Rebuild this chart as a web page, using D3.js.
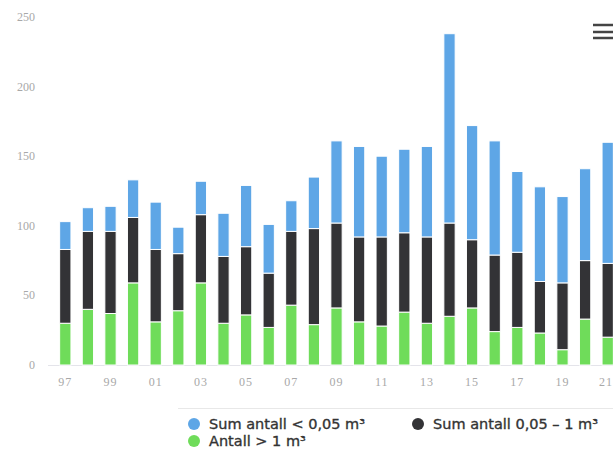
<!DOCTYPE html>
<html>
<head>
<meta charset="utf-8">
<script src="https://cdn.jsdelivr.net/npm/d3@7/dist/d3.min.js"></script>
<style>
  html, body { margin: 0; padding: 0; background: #fff; }
  svg { display: block; }
</style>
</head>
<body>
<svg id="chart" width="613" height="455"></svg>
<script>
const years = ["97","98","99","00","01","02","03","04","05","06","07","08","09","10","11","12","13","14","15","16","17","18","19","20","21"];
const tickLabels = ["97","99","01","03","05","07","09","11","13","15","17","19","21"];
const yTicks = [0, 50, 100, 150, 200, 250];
const seriesNames = ["Antall > 1 m³", "Sum antall 0,05 – 1 m³", "Sum antall < 0,05 m³"];
const large  = [30, 40, 37, 59, 31, 39, 59, 30, 36, 27, 43, 29, 41, 31, 28, 38, 30, 35, 41, 24, 27, 23, 11, 33, 20];
const medium = [53, 56, 59, 47, 52, 41, 49, 48, 49, 39, 53, 69, 61, 61, 64, 57, 62, 67, 49, 55, 54, 37, 48, 42, 53];
const small  = [20, 17, 18, 27, 34, 19, 24, 31, 44, 35, 22, 37, 59, 65, 58, 60, 65, 136, 82, 82, 58, 68, 62, 66, 87];
const colors = ["#6fdc5a", "#333336", "#5ea6e6"];

const rows = years.map((y, i) => ({ year: y, large: large[i], medium: medium[i], small: small[i] }));
const keys = ["large", "medium", "small"];
const stack = d3.stack().keys(keys)(rows);

const svg = d3.select("#chart");
const x = d3.scaleBand().domain(years).range([54, 619]).paddingInner(0.5).paddingOuter(0.25);
const y = d3.scaleLinear().domain([0, 250]).range([365, 17]);

// y axis labels
svg.append("g").selectAll("text").data(yTicks).join("text")
  .attr("x", 35).attr("y", d => y(d) + 4)
  .attr("text-anchor", "end")
  .attr("font-family", "Liberation Serif, serif")
  .attr("font-size", 12)
  .attr("fill", "#a8a8a8")
  .text(d => d);

// baseline
svg.append("line").attr("x1", 48).attr("x2", 613).attr("y1", 365.5).attr("y2", 365.5)
  .attr("stroke", "#e4e4ea").attr("stroke-width", 1);

// bars
svg.append("g").selectAll("g").data(stack).join("g")
  .attr("fill", (d, i) => colors[i])
  .selectAll("rect").data(d => d).join("rect")
  .attr("x", d => x(d.data.year))
  .attr("width", x.bandwidth())
  .attr("y", d => y(d[1]))
  .attr("height", d => y(d[0]) - y(d[1]))
  .attr("stroke", "#fff").attr("stroke-width", 1);

// x labels
svg.append("g").selectAll("text").data(tickLabels).join("text")
  .attr("x", d => Math.min(x(d) + x.bandwidth() / 2, 606))
  .attr("y", 386)
  .attr("text-anchor", "middle")
  .attr("font-family", "Liberation Serif, serif")
  .attr("font-size", 12)
  .attr("letter-spacing", 1)
  .attr("fill", "#a8a8a8")
  .text(d => d);

// legend
svg.append("line").attr("x1", 178).attr("x2", 613).attr("y1", 408.5).attr("y2", 408.5)
  .attr("stroke", "#e8e8e8");
const legendItems = [
  { name: seriesNames[2], color: colors[2], cx: 194, cy: 424 },
  { name: seriesNames[1], color: colors[1], cx: 418, cy: 424 },
  { name: seriesNames[0], color: colors[0], cx: 194, cy: 441 }
];
const lg = svg.append("g").selectAll("g").data(legendItems).join("g");
lg.append("circle").attr("cx", d => d.cx).attr("cy", d => d.cy).attr("r", 6).attr("fill", d => d.color);
lg.append("text").attr("x", d => d.cx + 15).attr("y", d => d.cy + 5)
  .attr("font-family", "DejaVu Sans, sans-serif")
  .attr("font-size", 14.5)
  .attr("fill", "#333")
  .attr("stroke", "#333").attr("stroke-width", 0.35)
  .text(d => d.name);

// menu icon
svg.append("g").selectAll("line").data([25, 32, 38]).join("line")
  .attr("x1", 593).attr("x2", 613).attr("y1", d => d).attr("y2", d => d)
  .attr("stroke", "#444").attr("stroke-width", 2.5);
</script>
</body>
</html>
